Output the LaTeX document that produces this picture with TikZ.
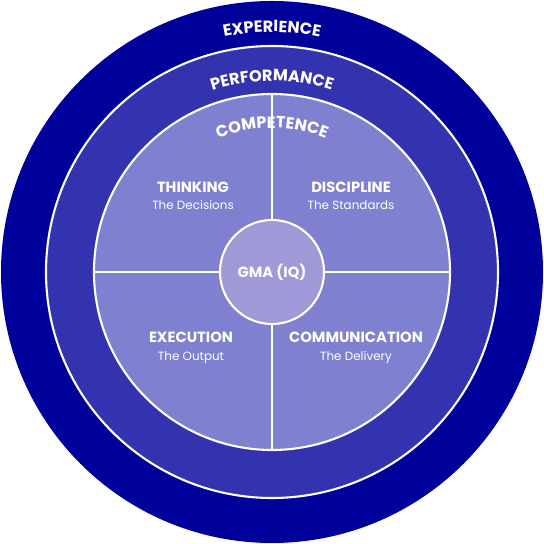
\documentclass[tikz,border=0pt]{standalone}
\usepackage{fontspec}
\setmainfont{Poppins}
\usetikzlibrary{decorations.text}
\definecolor{expblue}{RGB}{0,0,155}
\definecolor{perfblue}{RGB}{51,51,176}
\definecolor{compblue}{RGB}{128,128,208}
\definecolor{gmablue}{RGB}{158,154,216}
\begin{document}
\begin{tikzpicture}[x=0.025cm,y=0.025cm]
    \tikzset{
        ring/.style={draw=white, line width=1.5pt},
        quad/.style={text=white, align=center, font=\fontsize{10.5}{12.5}\selectfont},
        sub/.style={font=\fontsize{8.5}{10}\selectfont},
        arclabel/.style={decorate, decoration={text along path, text align=center,
            text color=white, text={|\bfseries\fontsize{11.5}{13}\selectfont|#1}}}
    }
    \useasboundingbox (-272,-272) rectangle (272,272);
    % rings
    \fill[expblue] (0,0) circle (271);
    \draw[ring, fill=perfblue] (0,0) circle (226);
    \draw[ring, fill=compblue] (0,0) circle (178);
    \foreach \a in {0,90,180,270} {
        \draw[white, line width=1.5pt] (0,0) -- (\a:178);
    }
    \draw[ring, fill=gmablue] (0,0) circle (52);
    % curved titles
    \path[arclabel=EXPERIENCE] (180:240) arc[start angle=180, end angle=0, radius=240];
    \path[arclabel=PERFORMANCE] (180:191) arc[start angle=180, end angle=0, radius=191];
    \path[arclabel=COMPETENCE] (180:144) arc[start angle=180, end angle=0, radius=144];
    % quadrants
    \node[quad] (gma) at (0,0) {\textbf{GMA (IQ)}};
    \node[quad] (think) at (-79,76) {\textbf{THINKING}\\{\fontsize{8.5}{10}\selectfont The Decisions}};
    \node[quad] (disc) at (79,76) {\textbf{DISCIPLINE}\\{\fontsize{8.5}{10}\selectfont The Standards}};
    \node[quad] (exec) at (-81,-76) {\textbf{EXECUTION}\\{\fontsize{8.5}{10}\selectfont The Output}};
    \node[quad] (comm) at (84,-76) {\textbf{COMMUNICATION}\\{\fontsize{8.5}{10}\selectfont The Delivery}};
\end{tikzpicture}
\end{document}
